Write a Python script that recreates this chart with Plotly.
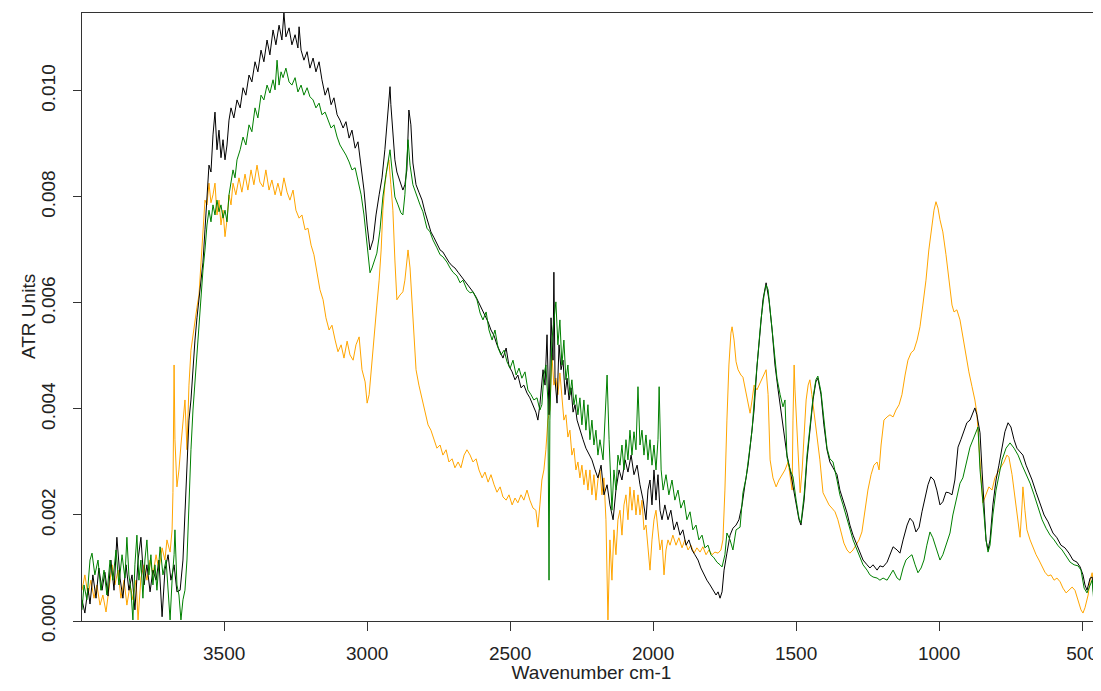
import plotly.graph_objects as go

# ATR-FTIR spectra, values
x_ticks = [3500, 3000, 2500, 2000, 1500, 1000, 500]
y_ticks = [0.000, 0.002, 0.004, 0.006, 0.008, 0.010]

black_wn = [3997, 3987, 3976, 3969, 3959, 3948, 3938, 3927, 3917, 3906, 3896, 3885, 3875, 3864, 3854, 3843,
            3833, 3822, 3812, 3801, 3791, 3780, 3770, 3759, 3749, 3738, 3728, 3717, 3707, 3696, 3686, 3675,
            3665, 3654, 3644, 3633, 3623, 3616, 3609, 3602, 3595, 3588, 3581, 3574, 3567, 3560, 3553, 3546,
            3539, 3532, 3525, 3518, 3511, 3504, 3497, 3490, 3483, 3476, 3466, 3455, 3444, 3434, 3424, 3413,
            3403, 3392, 3382, 3371, 3361, 3350, 3340, 3329, 3319, 3308, 3298, 3291, 3284, 3273, 3263, 3252,
            3242, 3238, 3231, 3221, 3210, 3200, 3189, 3179, 3168, 3158, 3147, 3137, 3126, 3116, 3105, 3095,
            3084, 3074, 3063, 3053, 3042, 3032, 3021, 3011, 3000, 2990, 2979, 2969, 2958, 2948, 2938, 2931,
            2924, 2920, 2917, 2910, 2903, 2896, 2885, 2875, 2868, 2861, 2854, 2847, 2840, 2829, 2819, 2808,
            2798, 2787, 2777, 2766, 2756, 2745, 2735, 2724, 2714, 2703, 2693, 2682, 2672, 2661, 2651, 2640,
            2630, 2619, 2609, 2598, 2588, 2577, 2567, 2556, 2546, 2535, 2525, 2514, 2504, 2493, 2483, 2473,
            2462, 2452, 2441, 2431, 2420, 2410, 2403, 2396, 2385, 2378, 2371, 2364, 2357, 2350, 2347, 2343,
            2336, 2329, 2322, 2315, 2308, 2301, 2294, 2287, 2280, 2273, 2266, 2256, 2245, 2235, 2224, 2214,
            2203, 2193, 2182, 2172, 2161, 2151, 2140, 2130, 2119, 2109, 2098, 2088, 2077, 2067, 2056, 2046,
            2035, 2025, 2018, 2011, 2004, 1997, 1990, 1983, 1976, 1969, 1959, 1948, 1938, 1927, 1917, 1906,
            1896, 1885, 1875, 1864, 1854, 1843, 1833, 1822, 1812, 1801, 1791, 1780, 1773, 1766, 1759, 1752,
            1742, 1731, 1721, 1710, 1700, 1689, 1679, 1668, 1658, 1647, 1637, 1626, 1616, 1605, 1595, 1584,
            1574, 1563, 1553, 1542, 1532, 1521, 1511, 1500, 1490, 1483, 1472, 1462, 1452, 1441, 1431, 1424,
            1413, 1403, 1392, 1382, 1371, 1357, 1347, 1336, 1322, 1312, 1301, 1287, 1277, 1266, 1252, 1242,
            1231, 1217, 1207, 1196, 1182, 1172, 1161, 1147, 1137, 1126, 1112, 1102, 1091, 1081, 1070, 1060,
            1050, 1039, 1029, 1018, 1008, 997, 987, 976, 966, 955, 945, 934, 924, 913, 903, 892,
            882, 875, 868, 857, 850, 843, 836, 829, 822, 812, 801, 791, 780, 770, 759, 749,
            738, 728, 717, 707, 696, 686, 675, 661, 647, 633, 619, 602, 588, 574, 560, 546,
            532, 518, 507, 497, 490, 483, 472, 465, 458, 451, 444, 434]
black_atr = [0.00040, 0.00015, 0.00062, 0.00032, 0.00087, 0.00043, 0.00100, 0.00058, 0.00092, 0.00047, 0.00115, 0.00058, 0.00158, 0.00081, 0.00043, 0.00106,
             0.00058, 0.00087, 0.00021, 0.00115, 0.00158, 0.00068, 0.00106, 0.00055, 0.00096, 0.00077, 0.00115, 0.00008, 0.00096, 0.00125, 0.00077, 0.00106,
             0.00055, 0.00058, 0.00115, 0.00247, 0.00379, 0.00417, 0.00479, 0.00530, 0.00572, 0.00606, 0.00643, 0.00677, 0.00738, 0.00813, 0.00860, 0.00847,
             0.00917, 0.00960, 0.00889, 0.00926, 0.00874, 0.00908, 0.00870, 0.00898, 0.00945, 0.00968, 0.00949, 0.00983, 0.00968, 0.01006, 0.00992, 0.01030,
             0.01017, 0.01055, 0.01036, 0.01077, 0.01055, 0.01096, 0.01068, 0.01115, 0.01087, 0.01124, 0.01096, 0.01147, 0.01102, 0.01119, 0.01087, 0.01106,
             0.01081, 0.01121, 0.01077, 0.01058, 0.01074, 0.01043, 0.01062, 0.01036, 0.01055, 0.01021, 0.00992, 0.01006, 0.00974, 0.00987, 0.00955, 0.00945,
             0.00930, 0.00942, 0.00911, 0.00926, 0.00892, 0.00904, 0.00860, 0.00813, 0.00747, 0.00700, 0.00719, 0.00766, 0.00804, 0.00836, 0.00889, 0.00932,
             0.00983, 0.01008, 0.00974, 0.00921, 0.00870, 0.00847, 0.00828, 0.00813, 0.00823, 0.00851, 0.00964, 0.00936, 0.00864, 0.00823, 0.00809, 0.00794,
             0.00772, 0.00753, 0.00734, 0.00723, 0.00711, 0.00700, 0.00696, 0.00685, 0.00677, 0.00670, 0.00666, 0.00658, 0.00651, 0.00643, 0.00638, 0.00630,
             0.00621, 0.00611, 0.00600, 0.00587, 0.00575, 0.00564, 0.00549, 0.00538, 0.00521, 0.00506, 0.00496, 0.00515, 0.00481, 0.00470, 0.00455, 0.00464,
             0.00440, 0.00445, 0.00430, 0.00421, 0.00408, 0.00394, 0.00379, 0.00408, 0.00474, 0.00445, 0.00540, 0.00389, 0.00572, 0.00492, 0.00658, 0.00455,
             0.00411, 0.00521, 0.00474, 0.00492, 0.00427, 0.00458, 0.00417, 0.00440, 0.00394, 0.00408, 0.00379, 0.00360, 0.00342, 0.00326, 0.00313, 0.00304,
             0.00285, 0.00270, 0.00294, 0.00238, 0.00257, 0.00219, 0.00191, 0.00247, 0.00285, 0.00266, 0.00304, 0.00281, 0.00313, 0.00276, 0.00294, 0.00257,
             0.00228, 0.00191, 0.00247, 0.00266, 0.00219, 0.00285, 0.00228, 0.00276, 0.00209, 0.00191, 0.00219, 0.00191, 0.00209, 0.00172, 0.00187, 0.00162,
             0.00172, 0.00143, 0.00153, 0.00134, 0.00125, 0.00115, 0.00100, 0.00087, 0.00077, 0.00068, 0.00058, 0.00049, 0.00055, 0.00043, 0.00055, 0.00096,
             0.00128, 0.00162, 0.00175, 0.00181, 0.00191, 0.00219, 0.00257, 0.00294, 0.00342, 0.00398, 0.00479, 0.00549, 0.00606, 0.00638, 0.00606, 0.00549,
             0.00483, 0.00436, 0.00398, 0.00351, 0.00313, 0.00285, 0.00257, 0.00219, 0.00191, 0.00181, 0.00228, 0.00304, 0.00360, 0.00417, 0.00451, 0.00458,
             0.00427, 0.00370, 0.00323, 0.00300, 0.00289, 0.00276, 0.00247, 0.00228, 0.00204, 0.00181, 0.00162, 0.00143, 0.00128, 0.00115, 0.00106, 0.00100,
             0.00106, 0.00096, 0.00104, 0.00102, 0.00111, 0.00125, 0.00140, 0.00134, 0.00128, 0.00153, 0.00181, 0.00194, 0.00187, 0.00168, 0.00177, 0.00206,
             0.00228, 0.00257, 0.00272, 0.00266, 0.00247, 0.00219, 0.00225, 0.00243, 0.00242, 0.00238, 0.00266, 0.00328, 0.00342, 0.00357, 0.00374, 0.00379,
             0.00394, 0.00402, 0.00389, 0.00355, 0.00285, 0.00209, 0.00153, 0.00134, 0.00153, 0.00219, 0.00266, 0.00294, 0.00326, 0.00357, 0.00374, 0.00366,
             0.00342, 0.00326, 0.00319, 0.00313, 0.00294, 0.00281, 0.00266, 0.00243, 0.00223, 0.00200, 0.00187, 0.00166, 0.00157, 0.00143, 0.00138, 0.00128,
             0.00115, 0.00111, 0.00102, 0.00087, 0.00068, 0.00058, 0.00081, 0.00083, 0.00040, 0.00015, 0.00030, 0.00008]

green_wn = [3997, 3990, 3980, 3969, 3962, 3952, 3941, 3931, 3920, 3910, 3899, 3889, 3878, 3868, 3857, 3847,
            3840, 3833, 3826, 3819, 3812, 3805, 3798, 3791, 3784, 3777, 3770, 3763, 3756, 3749, 3742, 3735,
            3724, 3714, 3703, 3696, 3689, 3682, 3675, 3672, 3665, 3658, 3651, 3644, 3637, 3630, 3623, 3616,
            3609, 3602, 3595, 3588, 3581, 3574, 3567, 3560, 3553, 3546, 3539, 3532, 3525, 3518, 3511, 3504,
            3497, 3490, 3483, 3476, 3469, 3462, 3455, 3444, 3434, 3424, 3413, 3403, 3392, 3382, 3371, 3361,
            3350, 3340, 3329, 3322, 3315, 3308, 3301, 3294, 3284, 3273, 3263, 3252, 3242, 3231, 3221, 3210,
            3200, 3189, 3179, 3168, 3158, 3147, 3137, 3126, 3116, 3105, 3095, 3084, 3074, 3063, 3053, 3042,
            3032, 3021, 3011, 3000, 2990, 2983, 2972, 2966, 2955, 2945, 2934, 2927, 2920, 2913, 2903, 2892,
            2882, 2875, 2868, 2857, 2850, 2840, 2826, 2815, 2805, 2791, 2780, 2770, 2756, 2745, 2735, 2721,
            2710, 2700, 2686, 2675, 2665, 2651, 2640, 2630, 2616, 2605, 2595, 2584, 2574, 2563, 2553, 2542,
            2532, 2521, 2511, 2500, 2490, 2479, 2469, 2459, 2448, 2438, 2427, 2417, 2406, 2396, 2389, 2382,
            2375, 2368, 2364, 2361, 2354, 2347, 2340, 2333, 2326, 2319, 2312, 2305, 2298, 2291, 2284, 2277,
            2270, 2263, 2256, 2249, 2242, 2235, 2228, 2221, 2214, 2207, 2200, 2193, 2186, 2175, 2168, 2161,
            2154, 2144, 2137, 2130, 2123, 2116, 2109, 2102, 2095, 2088, 2081, 2074, 2067, 2060, 2053, 2046,
            2039, 2032, 2025, 2018, 2011, 2004, 1997, 1990, 1983, 1979, 1972, 1965, 1955, 1945, 1934, 1924,
            1913, 1903, 1892, 1882, 1871, 1861, 1850, 1840, 1829, 1819, 1808, 1798, 1787, 1777, 1766, 1759,
            1749, 1742, 1731, 1721, 1710, 1696, 1686, 1675, 1665, 1654, 1644, 1633, 1623, 1612, 1605, 1598,
            1588, 1577, 1567, 1556, 1546, 1539, 1532, 1521, 1511, 1500, 1490, 1483, 1472, 1462, 1452, 1441,
            1431, 1424, 1413, 1403, 1392, 1382, 1371, 1357, 1347, 1336, 1322, 1312, 1301, 1287, 1277, 1266,
            1252, 1242, 1231, 1217, 1207, 1196, 1182, 1172, 1161, 1147, 1137, 1126, 1116, 1105, 1095, 1084,
            1074, 1063, 1053, 1043, 1032, 1022, 1011, 997, 987, 976, 962, 952, 941, 927, 917, 906,
            892, 878, 868, 864, 857, 850, 843, 836, 829, 822, 812, 801, 791, 780, 766, 752,
            738, 724, 710, 696, 682, 668, 654, 640, 626, 612, 598, 584, 570, 556, 542, 528,
            514, 504, 493, 483, 472, 465, 458, 451, 444, 434]
green_atr = [0.00021, 0.00068, 0.00040, 0.00115, 0.00128, 0.00087, 0.00115, 0.00058, 0.00096, 0.00049, 0.00115, 0.00077, 0.00134, 0.00068, 0.00125, 0.00081,
             0.00158, 0.00087, 0.00058, 0.00002, 0.00106, 0.00162, 0.00077, 0.00115, 0.00043, 0.00115, 0.00153, 0.00087, 0.00125, 0.00068, 0.00106, 0.00058,
             0.00140, 0.00087, 0.00115, 0.00049, 0.00002, 0.00077, 0.00125, 0.00172, 0.00068, 0.00049, 0.00002, 0.00040, 0.00058, 0.00115, 0.00228, 0.00323,
             0.00398, 0.00455, 0.00502, 0.00549, 0.00606, 0.00662, 0.00700, 0.00747, 0.00775, 0.00753, 0.00785, 0.00766, 0.00794, 0.00772, 0.00785, 0.00760,
             0.00775, 0.00753, 0.00804, 0.00832, 0.00851, 0.00836, 0.00870, 0.00889, 0.00913, 0.00898, 0.00936, 0.00923, 0.00968, 0.00949, 0.00992, 0.00983,
             0.01011, 0.00996, 0.01021, 0.01002, 0.01058, 0.01011, 0.01036, 0.01025, 0.01043, 0.01017, 0.01011, 0.01025, 0.00998, 0.01011, 0.00992, 0.01006,
             0.00989, 0.00983, 0.00968, 0.00977, 0.00955, 0.00960, 0.00945, 0.00930, 0.00936, 0.00913, 0.00898, 0.00889, 0.00879, 0.00866, 0.00851, 0.00855,
             0.00828, 0.00804, 0.00766, 0.00709, 0.00657, 0.00666, 0.00685, 0.00694, 0.00738, 0.00800, 0.00842, 0.00870, 0.00889, 0.00851, 0.00800, 0.00785,
             0.00770, 0.00766, 0.00804, 0.00908, 0.00860, 0.00823, 0.00800, 0.00785, 0.00772, 0.00741, 0.00734, 0.00719, 0.00704, 0.00691, 0.00687, 0.00677,
             0.00666, 0.00658, 0.00651, 0.00638, 0.00643, 0.00625, 0.00619, 0.00621, 0.00606, 0.00581, 0.00568, 0.00583, 0.00549, 0.00530, 0.00549, 0.00515,
             0.00502, 0.00511, 0.00489, 0.00477, 0.00492, 0.00464, 0.00477, 0.00458, 0.00470, 0.00436, 0.00427, 0.00417, 0.00421, 0.00398, 0.00408, 0.00464,
             0.00483, 0.00417, 0.00077, 0.00379, 0.00530, 0.00572, 0.00602, 0.00521, 0.00568, 0.00483, 0.00530, 0.00455, 0.00483, 0.00427, 0.00455, 0.00408,
             0.00427, 0.00389, 0.00421, 0.00370, 0.00417, 0.00360, 0.00408, 0.00342, 0.00379, 0.00332, 0.00360, 0.00313, 0.00342, 0.00304, 0.00398, 0.00464,
             0.00342, 0.00209, 0.00285, 0.00247, 0.00313, 0.00294, 0.00332, 0.00285, 0.00342, 0.00304, 0.00360, 0.00313, 0.00357, 0.00323, 0.00442, 0.00332,
             0.00360, 0.00313, 0.00351, 0.00304, 0.00342, 0.00294, 0.00332, 0.00285, 0.00342, 0.00442, 0.00285, 0.00247, 0.00276, 0.00238, 0.00266, 0.00228,
             0.00247, 0.00213, 0.00228, 0.00191, 0.00206, 0.00172, 0.00181, 0.00153, 0.00162, 0.00138, 0.00143, 0.00125, 0.00119, 0.00111, 0.00106, 0.00102,
             0.00125, 0.00166, 0.00153, 0.00134, 0.00172, 0.00177, 0.00242, 0.00270, 0.00313, 0.00360, 0.00436, 0.00502, 0.00568, 0.00615, 0.00634, 0.00625,
             0.00572, 0.00511, 0.00458, 0.00427, 0.00404, 0.00417, 0.00309, 0.00285, 0.00272, 0.00228, 0.00194, 0.00185, 0.00238, 0.00313, 0.00360, 0.00421,
             0.00455, 0.00462, 0.00432, 0.00375, 0.00326, 0.00306, 0.00300, 0.00266, 0.00238, 0.00219, 0.00191, 0.00172, 0.00153, 0.00134, 0.00119, 0.00106,
             0.00096, 0.00087, 0.00083, 0.00081, 0.00077, 0.00081, 0.00077, 0.00087, 0.00096, 0.00081, 0.00077, 0.00100, 0.00115, 0.00121, 0.00125, 0.00106,
             0.00091, 0.00100, 0.00115, 0.00143, 0.00168, 0.00157, 0.00138, 0.00115, 0.00125, 0.00143, 0.00166, 0.00200, 0.00228, 0.00260, 0.00270, 0.00294,
             0.00328, 0.00347, 0.00360, 0.00366, 0.00285, 0.00247, 0.00200, 0.00153, 0.00130, 0.00143, 0.00200, 0.00247, 0.00276, 0.00304, 0.00326, 0.00336,
             0.00326, 0.00313, 0.00294, 0.00276, 0.00260, 0.00238, 0.00213, 0.00191, 0.00175, 0.00162, 0.00153, 0.00142, 0.00134, 0.00123, 0.00111, 0.00106,
             0.00104, 0.00096, 0.00062, 0.00053, 0.00068, 0.00077, 0.00030, 0.00002, 0.00030, 0.00017]

orange_wn = [3997, 3987, 3976, 3966, 3955, 3945, 3934, 3924, 3913, 3903, 3892, 3882, 3871, 3861, 3850, 3840,
             3829, 3819, 3808, 3801, 3791, 3780, 3770, 3759, 3749, 3738, 3728, 3717, 3707, 3700, 3689, 3682,
             3679, 3675, 3672, 3665, 3658, 3651, 3644, 3637, 3630, 3623, 3616, 3609, 3602, 3595, 3588, 3581,
             3574, 3567, 3560, 3553, 3546, 3539, 3532, 3525, 3518, 3511, 3504, 3497, 3490, 3483, 3476, 3469,
             3459, 3448, 3438, 3427, 3417, 3406, 3396, 3385, 3375, 3364, 3354, 3343, 3333, 3322, 3312, 3301,
             3291, 3280, 3270, 3259, 3249, 3238, 3228, 3217, 3207, 3196, 3186, 3175, 3165, 3154, 3144, 3133,
             3123, 3112, 3102, 3091, 3081, 3070, 3060, 3049, 3039, 3028, 3018, 3007, 3000, 2993, 2986, 2979,
             2972, 2966, 2958, 2951, 2945, 2938, 2931, 2924, 2917, 2910, 2903, 2896, 2885, 2875, 2868, 2861,
             2857, 2850, 2843, 2836, 2829, 2819, 2808, 2798, 2787, 2777, 2766, 2756, 2745, 2735, 2724, 2714,
             2703, 2693, 2682, 2672, 2661, 2651, 2640, 2630, 2619, 2609, 2598, 2588, 2577, 2567, 2556, 2546,
             2535, 2525, 2514, 2504, 2493, 2483, 2473, 2462, 2452, 2441, 2431, 2420, 2410, 2403, 2396, 2389,
             2382, 2375, 2368, 2361, 2354, 2347, 2340, 2333, 2326, 2319, 2312, 2305, 2298, 2291, 2284, 2277,
             2270, 2263, 2256, 2249, 2242, 2235, 2228, 2221, 2214, 2207, 2200, 2193, 2186, 2179, 2172, 2165,
             2158, 2151, 2144, 2137, 2130, 2123, 2116, 2109, 2102, 2095, 2088, 2081, 2074, 2067, 2060, 2053,
             2046, 2039, 2032, 2025, 2018, 2011, 2004, 1997, 1990, 1983, 1976, 1969, 1962, 1955, 1948, 1941,
             1931, 1920, 1910, 1899, 1889, 1878, 1868, 1857, 1847, 1836, 1826, 1815, 1805, 1794, 1784, 1773,
             1763, 1756, 1749, 1742, 1735, 1728, 1724, 1717, 1710, 1703, 1693, 1686, 1675, 1668, 1661, 1654,
             1647, 1637, 1626, 1616, 1605, 1598, 1591, 1581, 1570, 1560, 1549, 1539, 1528, 1521, 1514, 1511,
             1507, 1504, 1497, 1490, 1486, 1479, 1472, 1465, 1458, 1452, 1445, 1438, 1427, 1417, 1406, 1396,
             1385, 1375, 1364, 1354, 1343, 1333, 1322, 1312, 1301, 1291, 1280, 1270, 1259, 1249, 1238, 1228,
             1217, 1210, 1203, 1193, 1182, 1172, 1161, 1151, 1140, 1130, 1119, 1109, 1098, 1088, 1077, 1067,
             1057, 1046, 1036, 1025, 1018, 1011, 1004, 997, 987, 976, 966, 955, 948, 938, 927, 917,
             906, 896, 885, 875, 868, 861, 854, 847, 836, 826, 815, 805, 794, 784, 773, 763,
             756, 745, 735, 724, 717, 710, 707, 700, 693, 682, 672, 661, 651, 640, 630, 619,
             609, 598, 588, 577, 567, 556, 546, 535, 525, 514, 504, 497, 490, 479, 472, 465,
             458, 451, 444, 434]
orange_atr = [0.00058, 0.00087, 0.00049, 0.00077, 0.00043, 0.00068, 0.00030, 0.00049, 0.00017, 0.00058, 0.00106, 0.00068, 0.00096, 0.00043, 0.00077, 0.00030,
              0.00068, 0.00040, 0.00077, 0.00002, 0.00081, 0.00106, 0.00077, 0.00115, 0.00087, 0.00125, 0.00096, 0.00138, 0.00115, 0.00153, 0.00130, 0.00172,
              0.00242, 0.00483, 0.00342, 0.00253, 0.00285, 0.00332, 0.00379, 0.00417, 0.00323, 0.00445, 0.00511, 0.00540, 0.00572, 0.00592, 0.00615, 0.00672,
              0.00738, 0.00794, 0.00785, 0.00826, 0.00789, 0.00804, 0.00826, 0.00766, 0.00794, 0.00747, 0.00775, 0.00725, 0.00757, 0.00804, 0.00785, 0.00826,
              0.00804, 0.00836, 0.00809, 0.00843, 0.00813, 0.00851, 0.00823, 0.00860, 0.00828, 0.00819, 0.00851, 0.00813, 0.00832, 0.00804, 0.00826, 0.00802,
              0.00836, 0.00809, 0.00794, 0.00813, 0.00775, 0.00760, 0.00766, 0.00738, 0.00741, 0.00709, 0.00691, 0.00658, 0.00625, 0.00606, 0.00572, 0.00549,
              0.00558, 0.00530, 0.00508, 0.00521, 0.00496, 0.00528, 0.00502, 0.00492, 0.00521, 0.00536, 0.00474, 0.00451, 0.00411, 0.00427, 0.00474, 0.00521,
              0.00558, 0.00596, 0.00643, 0.00700, 0.00775, 0.00823, 0.00851, 0.00870, 0.00823, 0.00775, 0.00681, 0.00606, 0.00615, 0.00621, 0.00643, 0.00681,
              0.00700, 0.00666, 0.00606, 0.00530, 0.00474, 0.00445, 0.00417, 0.00398, 0.00370, 0.00360, 0.00342, 0.00326, 0.00332, 0.00313, 0.00323, 0.00300,
              0.00306, 0.00289, 0.00300, 0.00289, 0.00313, 0.00323, 0.00313, 0.00300, 0.00306, 0.00285, 0.00270, 0.00281, 0.00262, 0.00276, 0.00257, 0.00243,
              0.00253, 0.00234, 0.00228, 0.00238, 0.00219, 0.00232, 0.00223, 0.00238, 0.00228, 0.00247, 0.00228, 0.00213, 0.00209, 0.00177, 0.00219, 0.00266,
              0.00285, 0.00323, 0.00379, 0.00398, 0.00502, 0.00445, 0.00458, 0.00427, 0.00468, 0.00417, 0.00379, 0.00389, 0.00347, 0.00360, 0.00313, 0.00326,
              0.00285, 0.00300, 0.00270, 0.00294, 0.00257, 0.00285, 0.00247, 0.00285, 0.00238, 0.00276, 0.00228, 0.00266, 0.00285, 0.00238, 0.00270, 0.00191,
              0.00002, 0.00153, 0.00077, 0.00172, 0.00125, 0.00191, 0.00209, 0.00162, 0.00219, 0.00238, 0.00191, 0.00253, 0.00209, 0.00247, 0.00200, 0.00238,
              0.00200, 0.00228, 0.00172, 0.00181, 0.00134, 0.00096, 0.00153, 0.00191, 0.00209, 0.00172, 0.00134, 0.00153, 0.00087, 0.00134, 0.00153, 0.00143,
              0.00162, 0.00143, 0.00157, 0.00138, 0.00153, 0.00134, 0.00143, 0.00128, 0.00138, 0.00130, 0.00140, 0.00125, 0.00134, 0.00125, 0.00130, 0.00128,
              0.00134, 0.00153, 0.00247, 0.00379, 0.00483, 0.00543, 0.00555, 0.00530, 0.00489, 0.00474, 0.00464, 0.00460, 0.00427, 0.00408, 0.00392, 0.00417,
              0.00445, 0.00436, 0.00449, 0.00458, 0.00474, 0.00427, 0.00304, 0.00270, 0.00253, 0.00266, 0.00276, 0.00285, 0.00300, 0.00270, 0.00247, 0.00379,
              0.00483, 0.00436, 0.00355, 0.00285, 0.00242, 0.00285, 0.00342, 0.00417, 0.00445, 0.00455, 0.00427, 0.00398, 0.00342, 0.00304, 0.00242, 0.00232,
              0.00219, 0.00213, 0.00206, 0.00191, 0.00168, 0.00147, 0.00134, 0.00128, 0.00134, 0.00143, 0.00153, 0.00168, 0.00209, 0.00247, 0.00276, 0.00294,
              0.00300, 0.00285, 0.00332, 0.00379, 0.00385, 0.00389, 0.00385, 0.00398, 0.00408, 0.00427, 0.00464, 0.00492, 0.00506, 0.00511, 0.00530, 0.00555,
              0.00596, 0.00643, 0.00700, 0.00747, 0.00775, 0.00791, 0.00779, 0.00757, 0.00734, 0.00691, 0.00643, 0.00596, 0.00583, 0.00587, 0.00568, 0.00534,
              0.00502, 0.00470, 0.00442, 0.00417, 0.00392, 0.00342, 0.00276, 0.00223, 0.00238, 0.00253, 0.00247, 0.00270, 0.00281, 0.00289, 0.00300, 0.00313,
              0.00309, 0.00276, 0.00234, 0.00191, 0.00158, 0.00219, 0.00253, 0.00209, 0.00172, 0.00153, 0.00138, 0.00125, 0.00115, 0.00102, 0.00092, 0.00085,
              0.00087, 0.00077, 0.00081, 0.00074, 0.00062, 0.00053, 0.00058, 0.00064, 0.00058, 0.00040, 0.00021, 0.00015, 0.00025, 0.00049, 0.00077, 0.00091,
              0.00058, 0.00040, 0.00043, 0.00049]

FONT = "Liberation Sans, Arial, sans-serif"

fig = go.Figure()
for wn, atr, col in [(orange_wn, orange_atr, "#FFA500"),
                     (black_wn, black_atr, "#000000"),
                     (green_wn, green_atr, "#008000")]:
    fig.add_trace(go.Scatter(x=wn, y=atr, mode="lines",
                             line=dict(color=col, width=1), hoverinfo="skip"))

# the page body adds an 8px margin, so the figure is shrunk to avoid scrollbars
fig.update_layout(
    width=1093, height=675,
    margin=dict(l=74, r=0, t=5, b=62, autoexpand=False),
    paper_bgcolor="white", plot_bgcolor="white",
    showlegend=False,
    font=dict(family=FONT, size=19, color="#222"),
)
fig.update_xaxes(
    range=[3997, 434], showgrid=False, zeroline=False, automargin=False,
    showline=True, linecolor="#333", linewidth=1, mirror=True,
    ticks="outside", ticklen=9, tickcolor="#333",
    tickmode="array", tickvals=x_ticks, ticktext=[str(t) for t in x_ticks],
    ticklabelstandoff=6,
    title=dict(text="Wavenumber cm-1", standoff=2,
               font=dict(family=FONT, size=19, color="#222")),
)
fig.update_yaxes(
    range=[0, 0.01147], showgrid=False, zeroline=False, automargin=False,
    showline=True, linecolor="#333", linewidth=1,
    ticks="outside", ticklen=8, tickcolor="#333",
    tickmode="array", tickvals=y_ticks, ticktext=["%.3f" % t for t in y_ticks],
    tickangle=-90, ticklabelstandoff=10,
)
fig.add_annotation(text="ATR Units", textangle=-90, showarrow=False,
                   xref="paper", yref="paper", x=0, y=0.5,
                   xanchor="center", yanchor="middle", xshift=-54,
                   font=dict(family=FONT, size=19, color="#222"))

fig.write_html("out.html")
